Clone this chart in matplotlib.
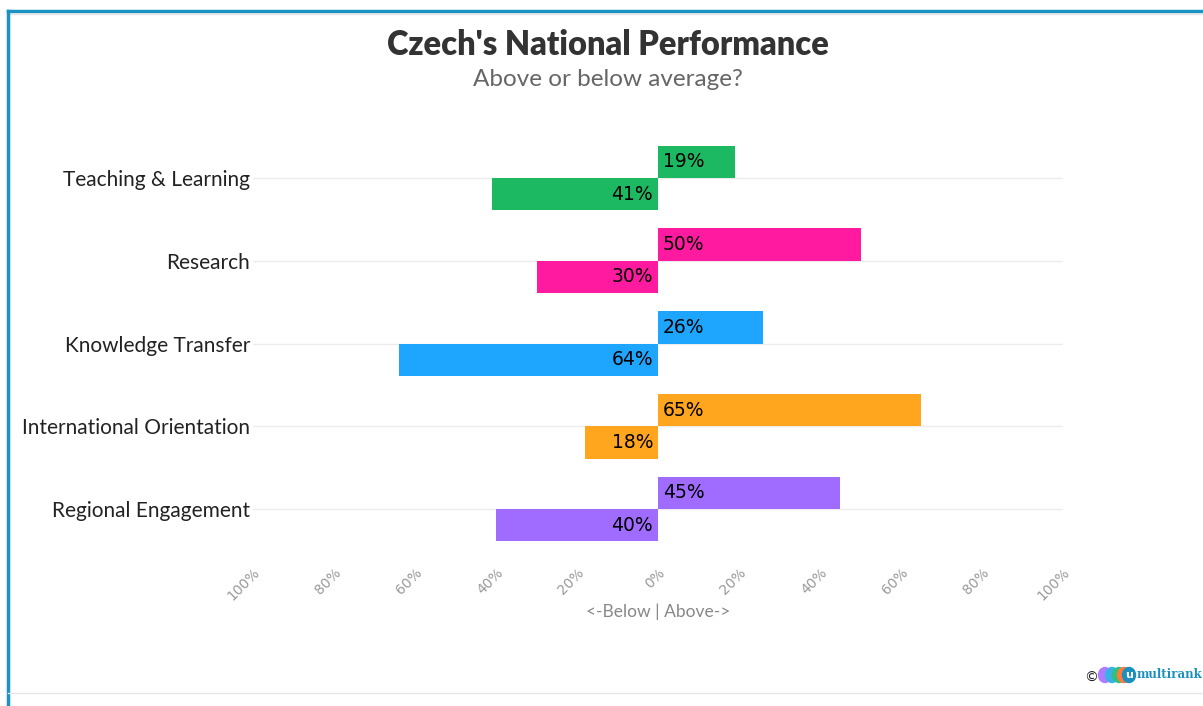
import matplotlib
matplotlib.use("Agg")
import matplotlib.pyplot as plt
from matplotlib.patches import Ellipse
from matplotlib.lines import Line2D

categories = ["Teaching & Learning", "Research", "Knowledge Transfer",
              "International Orientation", "Regional Engagement"]
above = [19, 50, 26, 65, 45]
below = [41, 30, 64, 18, 40]
colors = ["#1db862", "#ff1aa0", "#1ea6ff", "#ffa51e", "#a06bff"]
tick_vals = [-100, -80, -60, -40, -20, 0, 20, 40, 60, 80, 100]
tick_labels = ["100%", "80%", "60%", "40%", "20%", "0%", "20%", "40%", "60%", "80%", "100%"]

W, H = 1203, 706
fig = plt.figure(figsize=(W / 100, H / 100), dpi=100)

# axes placement
ax = fig.add_axes([253 / W, 0.2028, (1063 - 253) / W, 0.8241 - 0.2028])
n = len(categories)
ypos = [n - 1 - i for i in range(n)]
bh = 0.39
for y, a, b, c in zip(ypos, above, below, colors):
    ax.axhline(y, color="#ececec", lw=1, zorder=0)
    ax.barh(y + bh / 2, a, height=bh, color=c, zorder=2)
    ax.barh(y - bh / 2, -b, height=bh, color=c, zorder=2)
    ax.text(1.2, y + bh / 2, f"{a}%", va="center", ha="left", fontsize=13.5,
            color="black", zorder=3)
    ax.text(-1.2, y - bh / 2, f"{b}%", va="center", ha="right", fontsize=13.5,
            color="black", zorder=3)

ax.set_xlim(-100, 100)
ax.set_ylim(-0.65, 4.65)
ax.set_yticks(ypos)
ax.set_yticklabels(categories, fontsize=15, color="#222222", family="Lato")
ax.tick_params(axis="y", length=0, pad=2)
ax.set_xticks(tick_vals)
ax.set_xticklabels(tick_labels, rotation=45, ha="right", rotation_mode="anchor",
                   fontsize=10, color="#999999")
ax.tick_params(axis="x", length=0, pad=2)
for s in ax.spines.values():
    s.set_visible(False)
ax.set_xlabel("<-Below | Above->", fontsize=12.5, color="#888888", labelpad=0,
              family="Lato")

fig.text(0.505, 1 - 45 / H, "Czech's National Performance", ha="center", va="center",
         fontsize=23.5, fontweight="heavy", color="#333333", family="Lato")
fig.text(0.505, 1 - 80 / H, "Above or below average?", ha="center", va="center",
         fontsize=17.5, color="#666666", family="Lato")

# frame lines
fig.add_artist(Line2D([8 / W, 1], [1 - 11 / H, 1 - 11 / H], color="#1a92c2", lw=2.5))
fig.add_artist(Line2D([8 / W, 1], [1 - 14 / H, 1 - 14 / H], color="#e6e6e6", lw=1))
fig.add_artist(Line2D([8 / W, 8 / W], [0, 1 - 11 / H], color="#1a92c2", lw=2.5))
fig.add_artist(Line2D([8 / W, 1], [1 - 693 / H, 1 - 693 / H], color="#e6e6e6", lw=1))

# logo
fig.text(1091 / W, 1 - 678 / H, "©", ha="center", va="center", fontsize=10, color="#222222")
for cx, col in zip([1105, 1112, 1119], ["#b07cff", "#3bb0e8", "#2ec27e"]):
    fig.add_artist(Ellipse((cx / W, 1 - 675 / H), 13 / W, 15 / H, color=col,
                           transform=fig.transFigure))
fig.add_artist(Ellipse((1124 / W, 1 - 675 / H), 13 / W, 15 / H, color="#ff7a3d",
                       transform=fig.transFigure))
fig.add_artist(Ellipse((1129 / W, 1 - 675 / H), 13 / W, 15 / H, color="#1a8fc0",
                       transform=fig.transFigure))
fig.text(1129 / W, 1 - 675 / H, "u", ha="center", va="center", fontsize=8,
         color="white", fontweight="bold")
fig.text(1137 / W, 1 - 674 / H, "multirank", ha="left", va="center", fontsize=8.5,
         color="#1a8fc0", fontweight="bold", family="DejaVu Serif")

fig.savefig("out.png", dpi=100)
